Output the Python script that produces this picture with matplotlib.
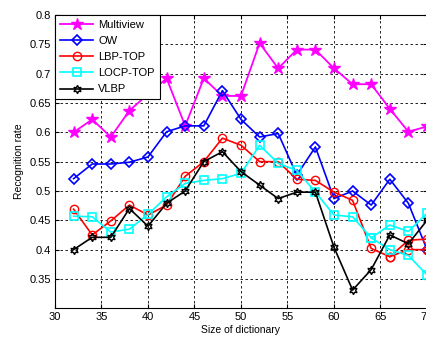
import numpy as np
import matplotlib
matplotlib.use("Agg")
from matplotlib import pyplot as plt

plt.rcParams["font.family"] = ["Liberation Sans", "DejaVu Sans"]

# dictionary sizes
sizes = [32, 34, 36, 38, 40, 42, 44, 46, 48, 50, 52, 54, 56, 58, 60, 62, 64, 66, 68, 70]

multiview = [0.600, 0.622, 0.592, 0.637, 0.665, 0.692, 0.611, 0.692, 0.662, 0.662,
             0.752, 0.709, 0.741, 0.741, 0.709, 0.682, 0.682, 0.640, 0.601, 0.610]
ow = [0.521, 0.546, 0.546, 0.549, 0.558, 0.601, 0.611, 0.611, 0.671, 0.622,
      0.592, 0.598, 0.527, 0.575, 0.487, 0.500, 0.476, 0.520, 0.479, 0.400]
lbp_top = [0.469, 0.425, 0.449, 0.476, 0.459, 0.476, 0.525, 0.550, 0.590, 0.578,
           0.550, 0.550, 0.520, 0.518, 0.498, 0.484, 0.402, 0.388, 0.400, 0.400]
locp_top = [0.457, 0.456, 0.430, 0.435, 0.460, 0.490, 0.513, 0.518, 0.521, 0.530,
            0.578, 0.547, 0.535, 0.498, 0.459, 0.456, 0.420, 0.442, 0.431, 0.462]
vlbp = [0.400, 0.421, 0.421, 0.470, 0.440, 0.479, 0.500, 0.550, 0.567, 0.533,
        0.510, 0.487, 0.498, 0.498, 0.404, 0.331, 0.366, 0.425, 0.410, 0.450]

# second runs drawn over the last few sizes
lbp_tail_x = [66, 68, 70]
lbp_tail = [0.388, 0.416, 0.418]
locp_tail_x = [64, 66, 68, 70]
locp_tail = [0.420, 0.400, 0.390, 0.357]

yticks = [0.35, 0.4, 0.45, 0.5, 0.55, 0.6, 0.65, 0.7, 0.75, 0.8]
ytick_labels = ["0.35", "0.4", "0.45", "0.5", "0.55", "0.6", "0.65", "0.7", "0.75", "0.8"]
xticks = [30, 35, 40, 45, 50, 55, 60, 65, 70]

fig = plt.figure(figsize=(4.27, 3.38), dpi=100)
ax = fig.add_axes([0.1288, 0.0879, 0.8712, 0.8677])

ax.plot(sizes, multiview, "-", color="magenta", marker="*", ms=9, lw=1.3,
        mfc="magenta", mec="magenta", label="Multiview", zorder=3)
ax.plot(sizes, ow, "-", color="blue", marker="D", ms=5, lw=1.2,
        mfc="none", mec="blue", mew=1.2, label="OW", zorder=3)
ax.plot(sizes, lbp_top, "-", color="red", marker="o", ms=6, lw=1.2,
        mfc="none", mec="red", mew=1.0, label="LBP-TOP", zorder=3)
ax.plot(lbp_tail_x, lbp_tail, "-", color="red", marker="o", ms=6, lw=1.2,
        mfc="none", mec="red", mew=1.0, zorder=3)
ax.plot(sizes, locp_top, "-", color="cyan", marker="s", ms=6, lw=1.2,
        mfc="none", mec="cyan", mew=1.2, label="LOCP-TOP", zorder=3)
ax.plot(locp_tail_x, locp_tail, "-", color="cyan", marker="s", ms=6, lw=1.2,
        mfc="none", mec="cyan", mew=1.2, zorder=3)
ax.plot(sizes, vlbp, "-", color="black", marker=(6, 1, 0), ms=6, lw=1.2,
        mfc="none", mec="black", mew=1.0, label="VLBP", zorder=3)

ax.set_xlim(30, 70)
ax.set_ylim(0.3, 0.8)
ax.set_xticks(xticks)
ax.set_xticklabels([str(t) for t in xticks])
ax.set_yticks(yticks)
ax.set_yticklabels(ytick_labels)
ax.grid(True, color="black", linestyle=(0, (3, 3)), linewidth=0.6)
ax.tick_params(axis="both", which="both", direction="in", length=3,
               labelsize=8, top=True, right=True, pad=3)
for spine in ax.spines.values():
    spine.set_linewidth(0.8)

ax.set_xlabel("Size of dictionary", fontsize=7.5, labelpad=2)
ax.set_ylabel("Recognition rate", fontsize=7.5, labelpad=4)

leg = ax.legend(loc="upper left", fontsize=8, fancybox=False, framealpha=1,
                edgecolor="black", borderaxespad=0, handlelength=3.0,
                labelspacing=0.55, borderpad=0.45, handletextpad=0.45)
leg.get_frame().set_linewidth(0.8)

plt.savefig("out.png", dpi=100)
